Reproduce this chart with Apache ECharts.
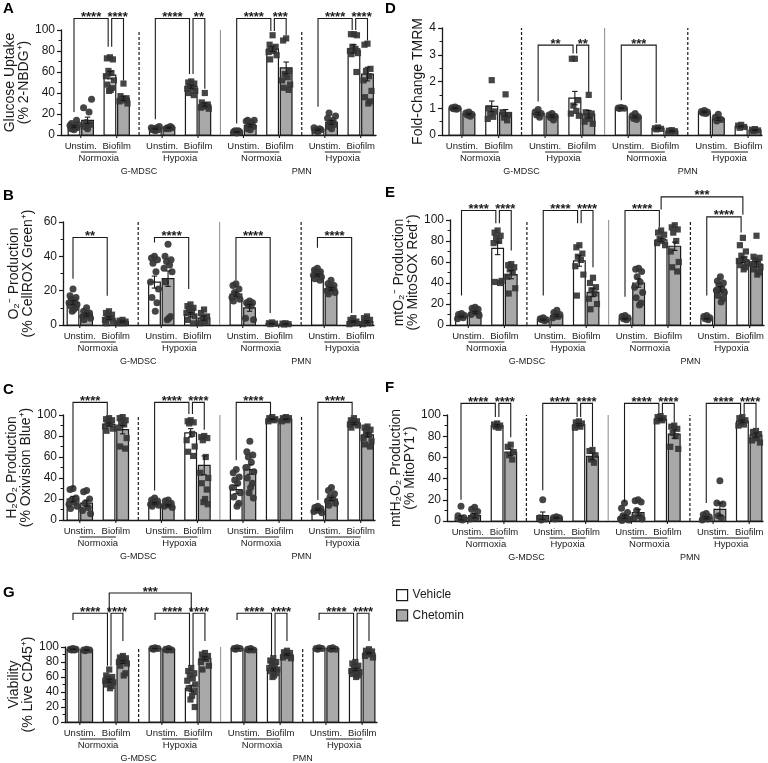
<!DOCTYPE html>
<html><head><meta charset="utf-8">
<script src="https://cdn.jsdelivr.net/npm/echarts@6/dist/echarts.min.js"></script>
<style>html,body{margin:0;padding:0;background:#fff}#c{width:768px;height:763px}</style>
</head><body><div id="c"></div>
<script>
// ---------------- categories ----------------
const cellTypes = ['G-MDSC', 'PMN'];
const conditions = ['Normoxia', 'Hypoxia', 'Normoxia', 'Hypoxia'];
const stimuli = ['Unstim.', 'Biofilm'];
const treatments = ['Vehicle', 'Chetomin'];
// bar order per panel (16): for each condition block -> Unstim/Vehicle, Unstim/Chetomin, Biofilm/Vehicle, Biofilm/Chetomin

// ---------------- A: Glucose uptake ----------------
const glucoseTicks = [0, 20, 40, 60, 80, 100];
const glucoseMean = [8, 14, 57, 35, 6, 7, 46, 29, 3, 9, 82, 64, 5, 12, 82, 58];
const glucoseSem = [1, 3, 3.5, 2, 0.5, 0.5, 1.5, 1.5, 0.3, 1.2, 2.5, 5.5, 0.6, 1.8, 4, 6.5];
const glucosePoints = [
  [5,6,7,7,8,9,10,11,14],[6,8,10,12,22,26,34],[74,73,72,61,59,56,52,48,45,43,42],[49,37,35,34,33,32,30],
  [4,5,5,6,7,7,8],[6,6,7,7,8],[51,50,49,47,45,44,42,40,38],[40,31,29,28,27,26,25],
  [2,3,3,4,4],[5,6,8,10,12,13,14,14],[95,86,84,82,80,79,76,72],[92,90,61,58,55,52,48,45,43],
  [3,4,5,5,6,7],[6,8,10,12,14,16,18,21],[96,96,95,84,82,80,78,77,60],[87,86,63,61,56,52,42,36,32,30]];
const glucoseSig = [[0,2,111,22,84],[2,3,111,84,52],[4,6,111,15,58],[6,7,111,58,44],[8,10,111,11,99],[10,11,111,99,95],[12,14,111,27,100],[14,15,111,100,90]];
const glucoseSigLabels = ['****','****','****','**','****','***','****','****'];

// ---------------- B: O2- production ----------------
const o2Ticks = [0, 20, 40, 60];
const o2Mean = [13, 6, 4, 2, 25, 27, 6, 4, 18, 10, 0.8, 0.5, 29, 21, 2, 2];
const o2Sem = [1.2, 0.8, 0.8, 0.3, 3.5, 4.5, 1.2, 1.2, 1.2, 2, 0.2, 0.1, 0.6, 0.8, 0.4, 0.6];
const o2Points = [
  [21,17,16,15,14,13,12,11,10,9,8],[10,8,7,6,6,5,4,3],[8,7,6,5,4,3,2,1],[3,2.5,2,1.5,1,1],
  [40,39,38,36,31,25,21,16,13,8],[47,40,38,37,35,33,31,25,5,4,3],[12,11,10,9,8,7,5,3,1],[9,7,5,4,2,1],
  [24,23,21,19,17,16,15,14],[14,13,13,12,11,4,3],[1.5,1,0.8,0.5],[1,0.8,0.5,0.3],
  [33,32,31,31,30,29,28,27,26],[26,24,23,22,21,20,19,18],[4,3,2,1.5,1,0.5],[5,4,3,2,1,0.5]];
const o2Sig = [[0,2,51,27,17],[4,6,51,48,21],[8,10,51,26,7],[12,14,51,45,7]];
const o2SigLabels = ['**','****','****','****'];

// ---------------- C: H2O2 production ----------------
const h2o2Ticks = [0, 20, 40, 60, 80, 100];
const h2o2Mean = [20, 16, 91, 86, 16, 14, 83, 52, 29, 48, 96, 96, 10, 20, 92, 81];
const h2o2Sem = [2.5, 3, 1.5, 4, 0.8, 0.8, 4, 9, 4, 4.5, 0.5, 0.5, 0.8, 1.5, 1, 1.8];
const h2o2Points = [
  [30,29,21,19,17,15,13,11],[28,27,20,16,12,9,6],[97,96,95,93,91,89,87,85],[98,97,95,93,91,88,78,70,68],
  [21,19,18,17,16,15,14,13],[19,18,16,15,14,13,12],[95,94,93,92,82,76,70,65,61],[80,79,78,76,60,45,40,35,29,20,17,15],
  [48,45,41,38,35,31,26,22,16,13],[75,65,62,60,55,50,46,40,35,31,26,21],[98,97,96,96,95,94],[98,97,97,96,95,94],
  [13,12,11,10,9,8,7],[31,28,25,22,20,18,16,14],[97,95,94,93,92,91,90,88],[89,88,86,84,81,78,75,72,70]];
const h2o2Sig = [[0,2,112,31,100],[4,6,112,28,101],[6,7,112,101,86],[8,10,112,57,100],[12,14,112,19,100]];
const h2o2SigLabels = ['****','****','****','****','****'];

// ---------------- D: TMRM ----------------
const tmrmTicks = [0, 1, 2, 3, 4];
const tmrmMean = [1.0, 0.78, 1.07, 0.83, 0.8, 0.7, 1.38, 0.78, 1.0, 0.68, 0.25, 0.15, 0.86, 0.6, 0.32, 0.18];
const tmrmSem = [0.02, 0.03, 0.2, 0.12, 0.05, 0.04, 0.25, 0.14, 0.01, 0.04, 0.02, 0.01, 0.03, 0.05, 0.02, 0.02];
const tmrmPoints = [
  [1.05,1.02,1.0,0.98,0.96],[0.86,0.82,0.78,0.75,0.7],[2.05,1.0,0.88,0.78,0.68,0.6],[1.52,0.85,0.75,0.65,0.55],
  [0.95,0.86,0.8,0.75,0.66],[0.8,0.75,0.7,0.65,0.56],[2.85,2.85,1.3,1.1,0.9,0.8,0.72],[1.5,0.85,0.8,0.7,0.6,0.5,0.42],
  [1.03,1.01,1.0,0.99],[0.8,0.72,0.68,0.62,0.58],[0.28,0.25,0.23,0.21],[0.18,0.16,0.14,0.13],
  [0.92,0.88,0.86,0.82,0.8],[0.78,0.66,0.58,0.52],[0.38,0.35,0.3,0.27],[0.22,0.2,0.17,0.15]];
const tmrmSig = [[4,6,3.36,1.25,3.05],[6,7,3.36,3.05,1.6],[8,10,3.36,1.3,0.45]];
const tmrmSigLabels = ['**','**','***'];

// ---------------- E: mtO2- production ----------------
const mtO2Ticks = [0, 20, 40, 60, 80, 100];
const mtO2Mean = [8, 12, 73, 48, 5, 9, 61, 31, 6, 40, 81, 75, 6, 34, 62, 58];
const mtO2Sem = [0.5, 1, 6, 4, 0.5, 1, 5, 4, 0.5, 4, 1.5, 4, 0.5, 2.5, 2.5, 2.5];
const mtO2Points = [
  [11,10,9,8,7,6],[17,16,15,14,12,10,9],[90,88,85,83,80,78,42,41,40],[58,57,55,53,50,46,35,30],
  [7,6,5,5,4],[14,12,10,9,8,7],[76,74,68,65,62,56,48,28],[45,40,36,33,30,25,20,15],
  [9,8,7,6,5],[54,53,51,46,41,36,31,26,21,19],[90,88,86,82,80,78,76],[95,93,91,88,80,70,60,55,51],
  [9,8,7,6,5],[46,42,40,38,35,33,31,28,25,22],[83,76,70,66,63,61,59,57,55,53],[85,65,64,62,60,58,55,53,50,48]];
const mtO2Sig = [[0,2,109,28,97],[2,3,109,97,71],[4,6,109,28,97],[6,7,109,97,55],[8,10,109,27,93],[12,14,103,28,88],[10,14,122,110,105]];
const mtO2SigLabels = ['****','****','****','****','****','****','***'];

// ---------------- F: mtH2O2 production ----------------
const mtH2o2Ticks = [0, 20, 40, 60, 80, 100];
const mtH2o2Mean = [3, 5, 90, 65, 5, 3, 91, 61, 4, 8, 96, 82, 3, 11, 94, 81];
const mtH2o2Sem = [2, 2, 1, 3, 3.5, 0.5, 1, 3, 1.5, 3, 0.8, 4, 1, 6, 1.2, 2];
const mtH2o2Points = [
  [14,5,3,2,1],[13,11,9,5,3,2],[92,91,90,89,88],[72,70,65,62,58],
  [20,3,2,1],[4,3,3,2],[94,93,92,90,89,88],[67,66,62,58,55],
  [17,12,8,5,3,2,1,0.5],[20,19,18,10,5,3,2],[99,98,97,96,95,94],[90,89,87,83,80,70,68],
  [7,6,4,3,2,1],[38,17,16,5,3],[98,97,95,93,91,90],[85,84,82,80,78,76,74]];
const mtH2o2Sig = [[0,2,111,20,98],[2,3,111,98,79],[4,6,111,29,98],[6,7,111,98,70],[8,10,111,18,102],[10,11,111,102,93],[12,14,111,17,101],[14,15,111,101,88]];
const mtH2o2SigLabels = ['****','****','****','****','****','****','****','****'];

// ---------------- G: Viability ----------------
const viaTicks = [0, 20, 40, 60, 80, 100];
const viaMean = [97, 96, 55, 80, 98, 97, 45, 85, 98, 97, 70, 90, 98, 98, 70, 92];
const viaSem = [0.3, 0.3, 2, 2, 0.2, 0.3, 4, 2, 0.2, 0.3, 2, 1, 0.2, 0.2, 1.5, 1];
const viaPoints = [
  [98,97,97,96,96],[97,96,96,95],[70,62,60,58,56,55,53,50,48,45],[88,86,85,84,82,80,78,75,65,62],
  [99,98,98,97],[98,97,96,96],[72,68,65,62,58,55,50,45,40,35,30,20],[92,90,88,86,84,80,75,70],
  [99,98,98,97],[98,97,96,96],[85,82,80,78,75,72,70,68,65,62,60],[95,93,92,90,88,86,85],
  [99,98,98,97],[99,98,97,97],[80,78,75,72,70,68,66,64,62,60],[97,95,94,92,90,88,86]];
const viaSig = [[0,2,145,136,75],[2,3,145,75,108],[4,6,145,136,75],[6,7,145,75,108],[8,10,145,136,88],[10,11,145,88,108],[12,14,145,136,83],[14,15,145,83,108],[2,6,172,146,147]];
const viaSigLabels = ['****','****','****','****','****','****','****','****','***'];

// ---------------- styling / layout ----------------
const FONT = '"Liberation Sans", Arial, Helvetica, sans-serif';
const INK = '#1a1a1a';
const FILLS = ['#ffffff', '#a8a8a8'];
const DOT = '#353535';
const BAR_W = 0.86;
const SLOT = [0, 1, 2.65, 3.65];
const BLOCK = 6;
const LAST = 3 * BLOCK + SLOT[3];
const SEP_X = [4.8, 10.8, 16.8];
const SEP_KIND = ['dashed', 'solid', 'dashed'];
const CELL_X = 4.8;
const JITTER = [0, -3, 3, -1.5, 1.5, -4, 4, -2.5, 2.5, 0.8, -0.8, 3.5];
function barX(i) { return Math.floor(i / 4) * BLOCK + SLOT[i % 4]; }

const panels = [
  {letter:'A', lx:3, ly:1, L:61, R:376, f:74, l:367.5, top:30, h:105, ticks:glucoseTicks, title:'Glucose Uptake\n(% 2-NBDG⁺)', gap:28, mean:glucoseMean, sem:glucoseSem, pts:glucosePoints, sig:glucoseSig, sigL:glucoseSigLabels},
  {letter:'B', lx:3, ly:188, L:63, R:374, f:73, l:367, top:222, h:103, ticks:o2Ticks, title:'O₂⁻ Production\n(% CellROX Green⁺)', gap:28, mean:o2Mean, sem:o2Sem, pts:o2Points, sig:o2Sig, sigL:o2SigLabels},
  {letter:'C', lx:3, ly:382, L:63, R:375, f:73, l:367.5, top:415, h:105, ticks:h2o2Ticks, title:'H₂O₂ Production\n(% Oxivision Blue⁺)', gap:28, mean:h2o2Mean, sem:h2o2Sem, pts:h2o2Points, sig:h2o2Sig, sigL:h2o2SigLabels},
  {letter:'G', lx:3, ly:585, L:65, R:377, f:73, l:369, top:647, h:75, ticks:viaTicks, title:'Viability\n(% Live CD45⁺)', gap:27, mean:viaMean, sem:viaSem, pts:viaPoints, sig:viaSig, sigL:viaSigLabels},
  {letter:'D', lx:385, ly:1, L:442, R:762, f:455, l:755, top:28, h:107, ticks:tmrmTicks, title:'Fold-Change TMRM', gap:12, mean:tmrmMean, sem:tmrmSem, pts:tmrmPoints, sig:tmrmSig, sigL:tmrmSigLabels},
  {letter:'E', lx:385, ly:185, L:450, R:764, f:461.5, l:756.5, top:220, h:105, ticks:mtO2Ticks, title:'mtO₂⁻ Production\n(% MitoSOX Red⁺)', gap:19, mean:mtO2Mean, sem:mtO2Sem, pts:mtO2Points, sig:mtO2Sig, sigL:mtO2SigLabels},
  {letter:'F', lx:385, ly:380, L:447, R:763, f:461, l:756, top:415, h:106, ticks:mtH2o2Ticks, title:'mtH₂O₂ Production\n(% MitoPY1⁺)', gap:15, mean:mtH2o2Mean, sem:mtH2o2Sem, pts:mtH2o2Points, sig:mtH2o2Sig, sigL:mtH2o2SigLabels}
];

const grids = [], xAxes = [], yAxes = [], series = [], graphics = [];
panels.forEach((p, k) => {
  const u = (p.l - p.f) / LAST;
  const yMax = p.ticks[p.ticks.length - 1];
  grids.push({left: p.L, top: p.top, width: p.R - p.L, height: p.h, containLabel: false});
  xAxes.push({gridIndex: k, type: 'value', min: -(p.f - p.L) / u, max: LAST + (p.R - p.l) / u,
    axisLine: {show: true, onZero: false, lineStyle: {color: INK, width: 1.3}},
    axisTick: {show: false}, axisLabel: {show: false}, splitLine: {show: false}});
  yAxes.push({gridIndex: k, type: 'value', min: p.ticks[0], max: yMax, interval: p.ticks[1] - p.ticks[0],
    axisLine: {show: true, onZero: false, lineStyle: {color: INK, width: 1.3}},
    axisTick: {show: true, length: 4, lineStyle: {color: INK, width: 1.2}},
    minorTick: {show: true, splitNumber: 2, length: 2.5, lineStyle: {color: INK, width: 1}},
    splitLine: {show: false}, minorSplitLine: {show: false},
    axisLabel: {fontSize: 12, color: INK, margin: 6, fontFamily: FONT},
    name: p.title, nameLocation: 'middle', nameRotate: 90, nameGap: p.gap,
    nameTextStyle: {fontSize: 14, lineHeight: 14, color: INK, fontFamily: FONT}});

  // separators between condition blocks
  series.push({type: 'custom', xAxisIndex: k, yAxisIndex: k, clip: false, silent: true, z: 1,
    data: SEP_X.map(x => [x, yMax]),
    renderItem: (params, api) => {
      const x = api.value(0);
      const a = api.coord([x, 0]), b = api.coord([x, api.value(1)]);
      const dashed = SEP_KIND[params.dataIndex] === 'dashed';
      return {type: 'line', shape: {x1: a[0], y1: a[1], x2: b[0], y2: b[1]},
        style: dashed ? {stroke: INK, lineWidth: 1.2, lineDash: [3, 2]} : {stroke: '#8a8a8a', lineWidth: 1}};
    }});

  // bars
  [0, 1].forEach(t => {
    series.push({name: treatments[t], type: 'custom', xAxisIndex: k, yAxisIndex: k, clip: false, z: 2,
      itemStyle: {color: FILLS[t], borderColor: INK, borderWidth: 1.2},
      data: p.mean.map((m, i) => [barX(i), m]).filter((_, i) => i % 2 === t),
      renderItem: (params, api) => {
        const x = api.value(0), m = api.value(1);
        const base = api.coord([x, 0]), top = api.coord([x, m]);
        const w = api.size([BAR_W, 0])[0];
        return {type: 'rect', shape: {x: base[0] - w / 2, y: top[1], width: w, height: base[1] - top[1]},
          style: {fill: FILLS[t], stroke: INK, lineWidth: 1.2}};
      }});
  });

  // individual points
  const sdata = [];
  p.pts.forEach((arr, i) => arr.forEach((v, j) => {
    const unstim = (i % 4) < 2;
    sdata.push({value: [barX(i), v], symbol: unstim ? 'circle' : 'rect', symbolSize: unstim ? 7 : 6.2,
      symbolOffset: [JITTER[j % JITTER.length], 0]});
  }));
  series.push({type: 'scatter', xAxisIndex: k, yAxisIndex: k, z: 3, silent: true, clip: false,
    itemStyle: {color: DOT, opacity: 0.92}, data: sdata});

  // error bars (mean ± SEM)
  series.push({type: 'custom', xAxisIndex: k, yAxisIndex: k, clip: false, silent: true, z: 4,
    data: p.mean.map((m, i) => [barX(i), m, p.sem[i]]),
    renderItem: (params, api) => {
      const x = api.value(0), m = api.value(1), s = api.value(2);
      const hi = api.coord([x, m + s]), lo = api.coord([x, Math.max(0, m - s)]);
      const cw = api.size([0.4, 0])[0] / 2;
      const st = {stroke: INK, lineWidth: 1.1};
      return {type: 'group', children: [
        {type: 'line', shape: {x1: hi[0], y1: hi[1], x2: lo[0], y2: lo[1]}, style: st},
        {type: 'line', shape: {x1: hi[0] - cw, y1: hi[1], x2: hi[0] + cw, y2: hi[1]}, style: st},
        {type: 'line', shape: {x1: lo[0] - cw, y1: lo[1], x2: lo[0] + cw, y2: lo[1]}, style: st}]};
    }});

  // significance brackets
  series.push({type: 'custom', xAxisIndex: k, yAxisIndex: k, clip: false, silent: true, z: 5,
    data: p.sig.map(b => {
      let x1 = barX(b[0]), x2 = barX(b[1]);
      if (b[0] % 4 === 2 && b[1] === b[0] + 1) x1 += 0.13;
      if (b[0] % 4 === 0 && b[1] === b[0] + 2) x2 -= 0.13;
      return [x1, x2, b[2], b[3], b[4]];
    }),
    renderItem: (params, api) => {
      const x1 = api.value(0), x2 = api.value(1), top = api.value(2);
      const a = api.coord([x1, api.value(3)]), b = api.coord([x1, top]);
      const c = api.coord([x2, top]), d = api.coord([x2, api.value(4)]);
      return {type: 'group', children: [
        {type: 'polyline', shape: {points: [a, b, c, d]}, style: {stroke: INK, lineWidth: 1.1, fill: 'none'}},
        {type: 'text', style: {text: p.sigL[params.dataIndex], x: (b[0] + c[0]) / 2, y: b[1] - 1,
          align: 'center', verticalAlign: 'middle', font: 'bold 13px ' + FONT, fill: INK}}]};
    }});

  // category labels under the axis
  series.push({type: 'custom', xAxisIndex: k, yAxisIndex: k, clip: false, silent: true, z: 5,
    data: conditions.map((c, g) => [g * BLOCK, 0]),
    renderItem: (params, api) => {
      const g = params.dataIndex, base = api.value(0);
      const pU = api.coord([base + (SLOT[0] + SLOT[1]) / 2, 0]);
      const pB = api.coord([base + (SLOT[2] + SLOT[3]) / 2, 0]);
      const y0 = pU[1];
      const small = '9.5px ' + FONT;
      const ch = [
        {type: 'line', shape: {x1: pU[0], y1: y0, x2: pU[0], y2: y0 + 3}, style: {stroke: INK, lineWidth: 1.1}},
        {type: 'line', shape: {x1: pB[0], y1: y0, x2: pB[0], y2: y0 + 3}, style: {stroke: INK, lineWidth: 1.1}},
        {type: 'text', style: {text: stimuli[0], x: pU[0], y: y0 + 11, align: 'center', verticalAlign: 'middle', font: small, fill: INK}},
        {type: 'text', style: {text: stimuli[1], x: pB[0], y: y0 + 11, align: 'center', verticalAlign: 'middle', font: small, fill: INK}},
        {type: 'line', shape: {x1: pU[0], y1: y0 + 17, x2: pB[0], y2: y0 + 17}, style: {stroke: INK, lineWidth: 1}},
        {type: 'text', style: {text: conditions[g], x: (pU[0] + pB[0]) / 2, y: y0 + 23.5, align: 'center', verticalAlign: 'middle', font: small, fill: INK}}
      ];
      if (g % 2 === 0) {
        const pc = api.coord([base + CELL_X, 0]);
        ch.push({type: 'text', style: {text: cellTypes[g / 2], x: pc[0], y: y0 + 37, align: 'center', verticalAlign: 'middle', font: '9px ' + FONT, fill: INK}});
      }
      return {type: 'group', children: ch};
    }});

  graphics.push({type: 'text', left: p.lx, top: p.ly, style: {text: p.letter, font: 'bold 15px ' + FONT, fill: '#000'}});
});

const chart = echarts.init(document.getElementById('c'), null, {renderer: 'canvas'});
chart.setOption({
  animation: false,
  backgroundColor: '#ffffff',
  grid: grids, xAxis: xAxes, yAxis: yAxes, series: series,
  graphic: graphics,
  legend: {show: true, orient: 'vertical', left: 396, top: 589, itemWidth: 11, itemHeight: 11, itemGap: 8,
    selectedMode: false, padding: 0,
    textStyle: {fontSize: 12, color: INK, fontFamily: FONT},
    data: [
      {name: 'Vehicle', icon: 'rect', itemStyle: {color: FILLS[0], borderColor: INK, borderWidth: 1.2}},
      {name: 'Chetomin', icon: 'rect', itemStyle: {color: FILLS[1], borderColor: INK, borderWidth: 1.2}}]}
});
</script></body></html>
